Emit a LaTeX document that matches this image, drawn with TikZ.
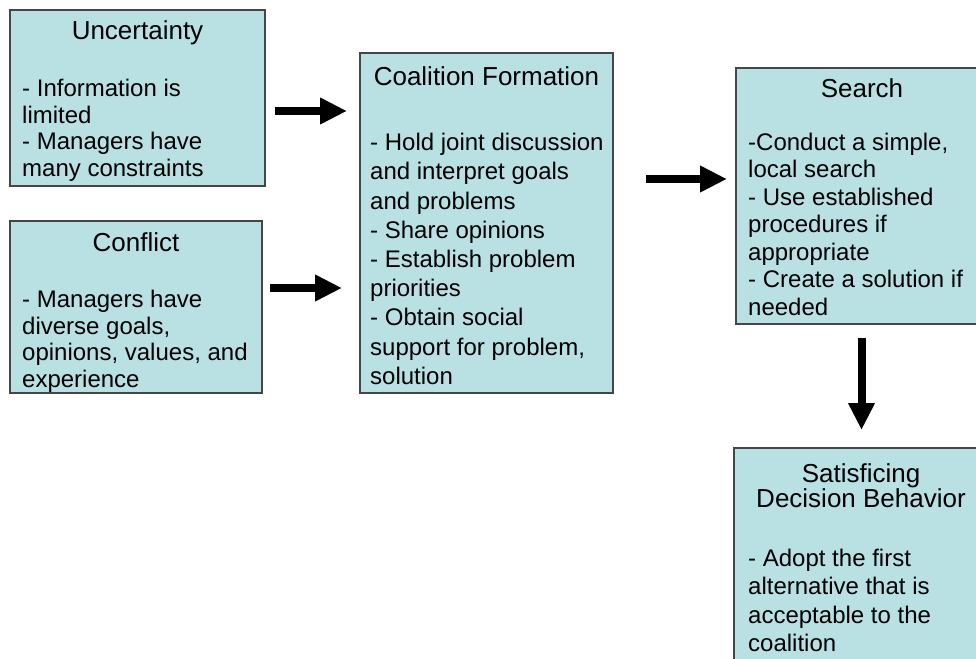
\documentclass[tikz,border=0pt]{standalone}
\usepackage{fontspec}
\setmainfont{Liberation Sans}
\usetikzlibrary{arrows.meta}
\definecolor{boxfill}{RGB}{185,224,227}
\definecolor{boxline}{RGB}{70,70,70}
\begin{document}
\begin{tikzpicture}[x=1pt,y=-1pt,
  panel/.style={draw=boxline, line width=1.1pt, fill=boxfill, anchor=north west,
                inner sep=0pt, outer sep=0pt},
  ttl/.style={inner sep=0pt, align=center, font=\fontsize{26}{25}\selectfont},
  body/.style={inner sep=0pt, anchor=north west, align=left},
  bigarrow/.style={line width=8pt, -{Triangle[length=27pt,width=25pt]}}
]
\clip (0,0) rectangle (976,658);

% panels
\node[panel, minimum width=255pt, minimum height=176pt] (unc)  at (10,10)  {};
\node[panel, minimum width=252pt, minimum height=172pt] (conf) at (10,221) {};
\node[panel, minimum width=253pt, minimum height=340pt] (coal) at (360,53) {};
\node[panel, minimum width=252pt, minimum height=256pt] (srch) at (736,68) {};
\node[panel, minimum width=254pt, minimum height=260pt] (sat)  at (734,448) {};

% titles
\node[ttl] (unc-t)  at (137.5,33) {Uncertainty};
\node[ttl] (conf-t) at (136,242)  {Conflict};
\node[ttl] (coal-t) at (486.5,76) {Coalition Formation};
\node[ttl] (srch-t) at (862,88)   {Search};
\node[ttl] (sat-t)  at (861,486)  {Satisficing\\Decision Behavior};

% body texts
\node[body, font=\fontsize{24}{26.5}\selectfont] (unc-b) at (22,78)
  {\strut - Information is\\limited\\- Managers have\\many constraints};
\node[body, font=\fontsize{24}{26.5}\selectfont] (conf-b) at (22,289)
  {\strut - Managers have\\diverse goals,\\opinions, values, and\\experience};
\node[body, font=\fontsize{24}{29.2}\selectfont] (coal-b) at (370,130)
  {\strut - Hold joint discussion\\and interpret goals\\and problems\\- Share opinions\\- Establish problem\\priorities\\- Obtain social\\support for problem,\\solution};
\node[body, font=\fontsize{24}{27.5}\selectfont] (srch-b) at (748,131)
  {\strut -Conduct a simple,\\local search\\- Use established\\procedures if\\appropriate\\- Create a solution if\\needed};
\node[body, font=\fontsize{24}{28.5}\selectfont] (sat-b) at (748,546)
  {\strut - Adopt the first\\alternative that is\\acceptable to the\\coalition};

% connectors
\coordinate (a1s) at (275,111);  \coordinate (a1e) at (347,111);
\coordinate (a2s) at (270,288);  \coordinate (a2e) at (342,288);
\coordinate (a3s) at (646,179);  \coordinate (a3e) at (727,179);
\coordinate (a4s) at (861.5,338); \coordinate (a4e) at (861.5,430);
\draw[bigarrow] (a1s) -- (a1e);
\draw[bigarrow] (a2s) -- (a2e);
\draw[bigarrow] (a3s) -- (a3e);
\draw[bigarrow] (a4s) -- (a4e);
\end{tikzpicture}
\end{document}
